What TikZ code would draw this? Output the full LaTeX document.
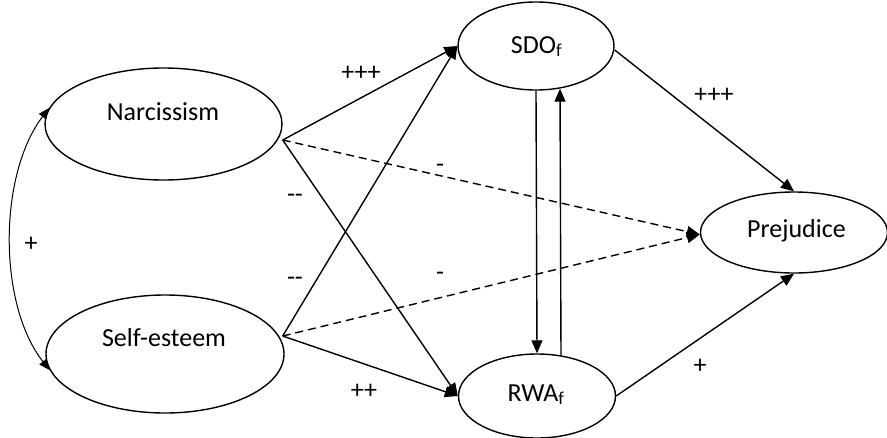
\documentclass[tikz,border=0pt]{standalone}
\usepackage{fontspec}
\setmainfont{Carlito}
\usetikzlibrary{arrows.meta,calc,shapes.geometric}
\begin{document}
\begin{tikzpicture}[x=1pt,y=-1pt,
  every node/.style={font=\fontsize{26}{30}\selectfont},
  construct/.style={draw, ellipse, line width=1.4pt, inner sep=0pt},
  cname/.style={anchor=base, inner sep=0pt},
  signlabel/.style={anchor=base, inner sep=0pt},
  effect/.style={line width=1.4pt, -{Triangle[length=13pt,width=11pt]}},
  weakeffect/.style={effect, dash pattern=on 8pt off 5pt},
  covar/.style={line width=1pt, {Triangle[length=11pt,width=9pt]}-{Triangle[length=11pt,width=9pt]}}]
\useasboundingbox (0,0) rectangle (887,437);

% latent constructs
\node[construct, minimum width=237pt, minimum height=112pt] (narc) at (163.5,124) {};
\node[construct, minimum width=238pt, minimum height=118pt] (se)   at (165,354) {};
\node[construct, minimum width=156pt, minimum height=88pt]  (sdo)  at (536,46) {};
\node[construct, minimum width=157pt, minimum height=84pt]  (rwa)  at (537,396) {};
\node[construct, minimum width=187pt, minimum height=81pt]  (prej) at (794,232.5) {};

% construct names
\node[cname] (narcT) at (163,120) {Narcissism};
\node[cname] (seT)   at (164,346) {Self-esteem};
\node[cname] (sdoT)  at (536.5,53) {SDO\textsubscript{f}};
\node[cname] (rwaT)  at (536,401) {RWA\textsubscript{f}};
\node[cname] (prejT) at (796.5,237) {Prejudice};

% origins of the outgoing paths
\coordinate (nv) at ($(narc.east)+(0,16)$);
\coordinate (sv) at ($(se.east)+(-2,-18)$);

% structural paths
\draw[effect] (nv) -- (sdo.west);
\draw[effect] (nv) -- (rwa.west);
\draw[effect] (sv) -- (sdo.west);
\draw[effect] (sv) -- (rwa.west);
\draw[weakeffect] (nv) -- ($(prej.west)+(0,2)$);
\draw[weakeffect] (sv) -- ($(prej.west)+(0,2)$);
\draw[effect] (sdo.south) -- (rwa.north);
\draw[effect] ([xshift=24pt,yshift=-2pt]rwa.north) -- ([xshift=24pt,yshift=2pt]sdo.south);
\draw[effect] ($(sdo.east)+(0,4)$) -- (prej.north);
\draw[effect] (rwa.east) -- (prej.south);

% correlation between the predictors
\draw[covar] (narc.172) .. controls (-2,175) and (-2,305) .. (se.188);

% signs of the effects
\node[signlabel] (s1) at (361,80.5) {+++};
\node[signlabel] (s2) at (714,102.5) {+++};
\node[signlabel] (s3) at (440,172.5) {-};
\node[signlabel] (s4) at (295,202.5) {-{}-};
\node[signlabel] (s5) at (295,285.5) {-{}-};
\node[signlabel] (s6) at (440,280.5) {-};
\node[signlabel] (s7) at (364,398.5) {++};
\node[signlabel] (s8) at (31,251.5) {+};
\node[signlabel] (s9) at (700,373.5) {+};
\end{tikzpicture}
\end{document}
